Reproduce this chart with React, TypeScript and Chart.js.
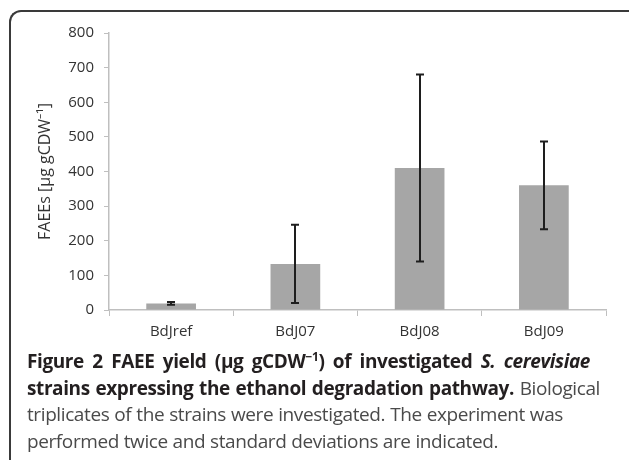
import React, { useEffect, useRef } from "react";
import { Chart, registerables } from "chart.js";

Chart.register(...registerables);

const categories = ["BdJref", "BdJ07", "BdJ08", "BdJ09"];
const faeeValues = [19, 133, 410, 360];
const faeeErrors = [4, 113, 270, 127];
const yTicks = [0, 100, 200, 300, 400, 500, 600, 700, 800];

const errorBarPlugin = {
  id: "errorBars",
  afterDatasetsDraw(chart: any) {
    const meta = chart.getDatasetMeta(0);
    const yScale = chart.scales.y;
    const ctx = chart.ctx;
    ctx.save();
    ctx.strokeStyle = "#1e1e1e";
    ctx.lineWidth = 2;
    meta.data.forEach((bar: any, i: number) => {
      const x = Math.round(bar.x);
      const yTop = yScale.getPixelForValue(faeeValues[i] + faeeErrors[i]);
      const yBot = yScale.getPixelForValue(faeeValues[i] - faeeErrors[i]);
      ctx.beginPath();
      ctx.moveTo(x, yTop);
      ctx.lineTo(x, yBot);
      ctx.moveTo(x - 4, yTop);
      ctx.lineTo(x + 4, yTop);
      ctx.moveTo(x - 4, yBot);
      ctx.lineTo(x + 4, yBot);
      ctx.stroke();
    });
    ctx.restore();
  },
};

export default function App() {
  const ref = useRef<HTMLCanvasElement>(null);
  useEffect(() => {
    if (!ref.current) return;
    const chart = new Chart(ref.current, {
      type: "bar",
      data: {
        labels: categories,
        datasets: [
          {
            data: faeeValues,
            backgroundColor: "#a6a6a6",
            borderWidth: 0,
            categoryPercentage: 1,
            barPercentage: 0.4,
          },
        ],
      },
      options: {
        animation: false,
        responsive: false,
        maintainAspectRatio: false,
        layout: { padding: { left: 0, right: 23, top: 33, bottom: 0 } },
        plugins: {
          legend: { display: false },
          tooltip: { enabled: false },
        },
        scales: {
          x: {
            grid: {
              display: true,
              drawOnChartArea: false,
              drawTicks: true,
              tickLength: 6,
              color: "#bfbfbf",
              offset: true,
            },
            border: { display: true, color: "#bfbfbf", width: 1.5 },
            ticks: {
              color: "#333333",
              font: { family: "Open Sans", size: 15 },
              padding: 7,
            },
            afterFit: (s: any) => {
              s.height = 40;
            },
          },
          y: {
            min: 0,
            max: 800,
            afterBuildTicks: (s: any) => {
              s.ticks = yTicks.map((v) => ({ value: v }));
            },
            grid: {
              display: true,
              drawOnChartArea: false,
              drawTicks: true,
              tickLength: 5,
              color: "#bfbfbf",
            },
            border: { display: true, color: "#bfbfbf", width: 1.5 },
            ticks: {
              color: "#333333",
              font: { family: "Open Sans", size: 15 },
              padding: 10,
            },
            title: {
              display: true,
              text: "FAEEs [µg gCDW⁻¹]",
              color: "#333333",
              font: { family: "Open Sans", size: 16 },
              padding: { top: 36, bottom: 0 },
            },
            afterFit: (s: any) => {
              s.width = 109;
            },
          },
        },
      },
      plugins: [errorBarPlugin],
    });
    return () => chart.destroy();
  }, []);

  const bold: React.CSSProperties = { fontWeight: 700, color: "#231f20" };
  const line = (w: number): React.CSSProperties => ({
    width: w,
    textAlign: "justify",
    textAlignLast: "justify",
    whiteSpace: "normal",
  });
  return (
    <div
      style={{
        position: "absolute",
        left: 0,
        top: 0,
        width: 629,
        height: 460,
        overflow: "hidden",
        background: "#ffffff",
      }}
    >
      <div
        style={{
          position: "absolute",
          left: 9,
          top: 10,
          width: 640,
          height: 500,
          borderTop: "2px solid #3a3a3a",
          borderLeft: "2px solid #3a3a3a",
          borderTopLeftRadius: 12,
          boxSizing: "border-box",
        }}
      />
      <canvas
        ref={ref}
        width={629}
        height={350}
        style={{ position: "absolute", left: 0, top: 0, width: 629, height: 350 }}
      />
      <div
        style={{
          position: "absolute",
          left: 27,
          top: 348,
          width: 600,
          fontFamily: "Open Sans",
          fontSize: 19,
          lineHeight: "26.7px",
          color: "#4a4a4a",
          letterSpacing: "-0.4px",
        }}
      >
        <div style={line(563)}>
          <span style={bold}>
            Figure 2 FAEE yield (µg gCDW<sup style={{ fontSize: 12, lineHeight: 0 }}>−1</sup>) of investigated{" "}
            <i>S. cerevisiae</i>
          </span>
        </div>
        <div style={line(573)}>
          <span style={bold}>strains expressing the ethanol degradation pathway.</span> Biological
        </div>
        <div style={line(536)}>triplicates of the strains were investigated. The experiment was</div>
        <div style={line(471)}>performed twice and standard deviations are indicated.</div>
      </div>
    </div>
  );
}
